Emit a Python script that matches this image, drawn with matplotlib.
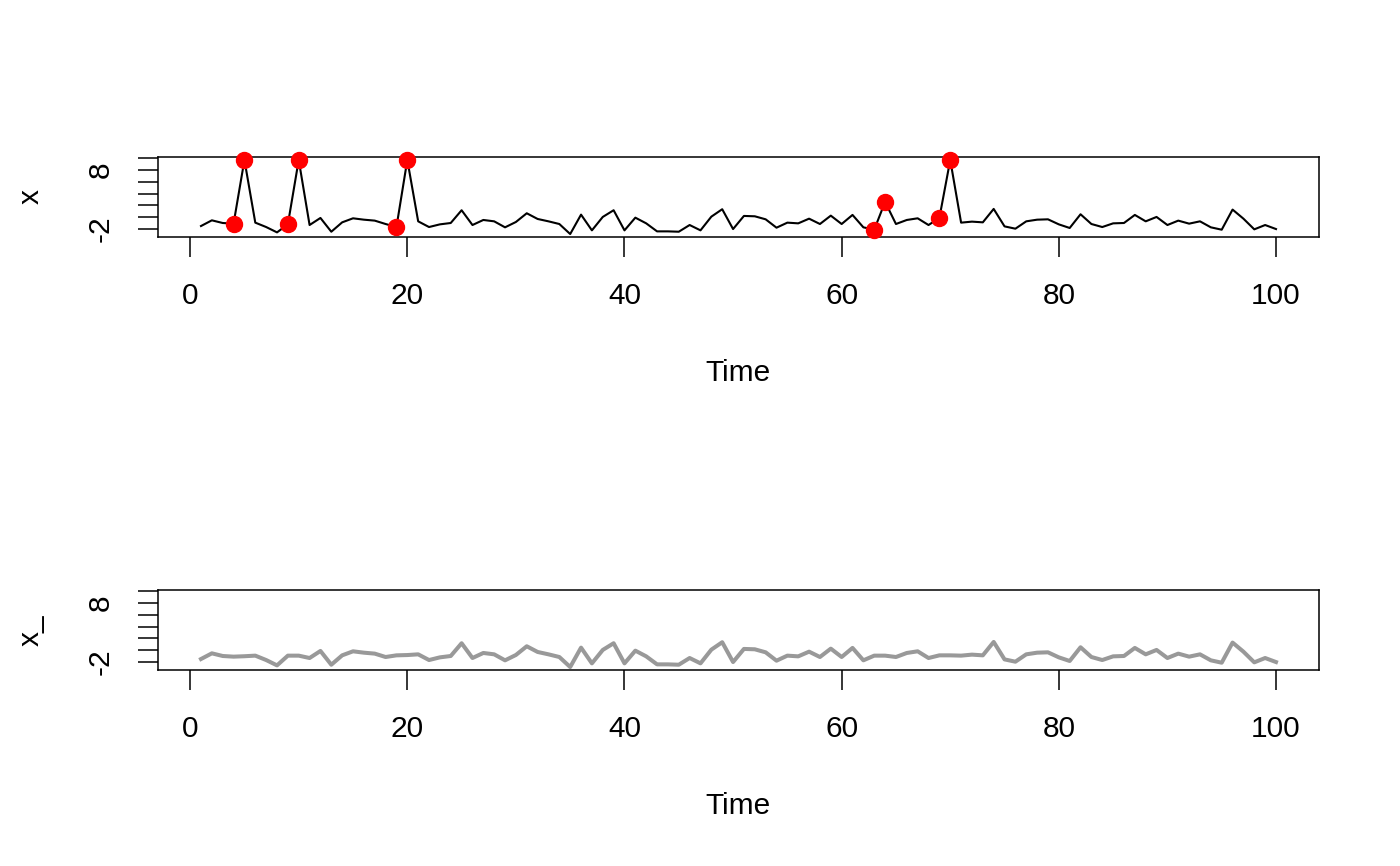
import numpy as np
import matplotlib.pyplot as plt

plt.rcParams['font.family'] = ['Liberation Sans', 'DejaVu Sans']
plt.rcParams['axes.unicode_minus'] = False

time = np.arange(1, 101)
x = [-1.47, -0.51, -0.96, -1.07, 9.66, -0.90, -1.64, -2.54, -1.19, 9.66,
     -1.30, -0.11, -2.43, -0.85, -0.17, -0.40, -0.56, -1.13, -1.64, 9.66,
     -0.68, -1.64, -1.19, -0.96, 1.19, -1.30, -0.45, -0.68, -1.69, -0.79,
     0.68, -0.28, -0.68, -1.13, -2.82, 0.45, -2.20, 0.06, 1.19, -2.20,
     -0.06, -1.02, -2.37, -2.37, -2.43, -1.30, -2.20, 0.11, 1.36, -1.98,
     0.23, 0.17, -0.34, -1.75, -0.90, -1.02, -0.23, -1.13, 0.28, -1.13,
     0.40, -1.69, -2.09, 2.60, -1.13, -0.45, -0.17, -1.30, -0.11, 9.66,
     -0.90, -0.73, -0.85, 1.41, -1.53, -1.92, -0.68, -0.40, -0.34, -1.19,
     -1.80, 0.51, -1.13, -1.64, -1.02, -0.96, 0.40, -0.68, 0.06, -1.30,
     -0.56, -1.07, -0.68, -1.69, -2.09, 1.30, -0.23, -2.03, -1.30, -1.98]

# points flagged as outliers
out_idx = [4, 5, 9, 10, 19, 20, 63, 64, 69, 70]

# cleaned series
x_ = list(x)
x_[5 - 1] = -1.00
x_[9 - 1] = -0.90
x_[10 - 1] = -0.90
x_[19 - 1] = -0.85
x_[20 - 1] = -0.80
x_[63 - 1] = -0.90
x_[64 - 1] = -0.90
x_[69 - 1] = -0.85
x_[70 - 1] = -0.85

yticks = [-2, 0, 2, 4, 6, 8, 10]
ytick_labels = ['-2', '', '', '', '', '8', '']
xticks = [0, 20, 40, 60, 80, 100]

W, H = 1400, 866
fig = plt.figure(figsize=(W / 100, H / 100), dpi=100)

def r_range(a, b):
    d = (b - a) * 0.04
    return a - d, b + d

xlim = r_range(1, 100)
ylim = r_range(min(x), max(x))

def setup(ax, ylab):
    ax.set_xlim(*xlim)
    ax.set_ylim(*ylim)
    ax.set_xticks(xticks)
    ax.set_yticks(yticks)
    ax.set_yticklabels(ytick_labels, rotation=90, va='center')
    ax.tick_params(length=14.5, width=1.1, pad=18, labelsize=21.5)
    ax.tick_params(axis='y', pad=17)
    for s in ax.spines.values():
        s.set_linewidth(1.1)
    ax.set_xlabel('Time', fontsize=21.5, labelpad=35)
    ax.set_ylabel(ylab, fontsize=21.5, labelpad=30)

ax1 = fig.add_axes([158 / W, 1 - 237 / H, 1161 / W, 80 / H])
ax1.plot(time, x, color='black', lw=1.5)
ax1.plot([time[i - 1] for i in out_idx], [x[i - 1] for i in out_idx],
         'o', color='red', ms=11.5, zorder=3, clip_on=False)
setup(ax1, 'x')

ax2 = fig.add_axes([158 / W, 1 - 670 / H, 1161 / W, 80 / H])
ax2.plot(time, x_, color='#999999', lw=2.9)
setup(ax2, 'x_')

fig.savefig('out.png', dpi=100)
